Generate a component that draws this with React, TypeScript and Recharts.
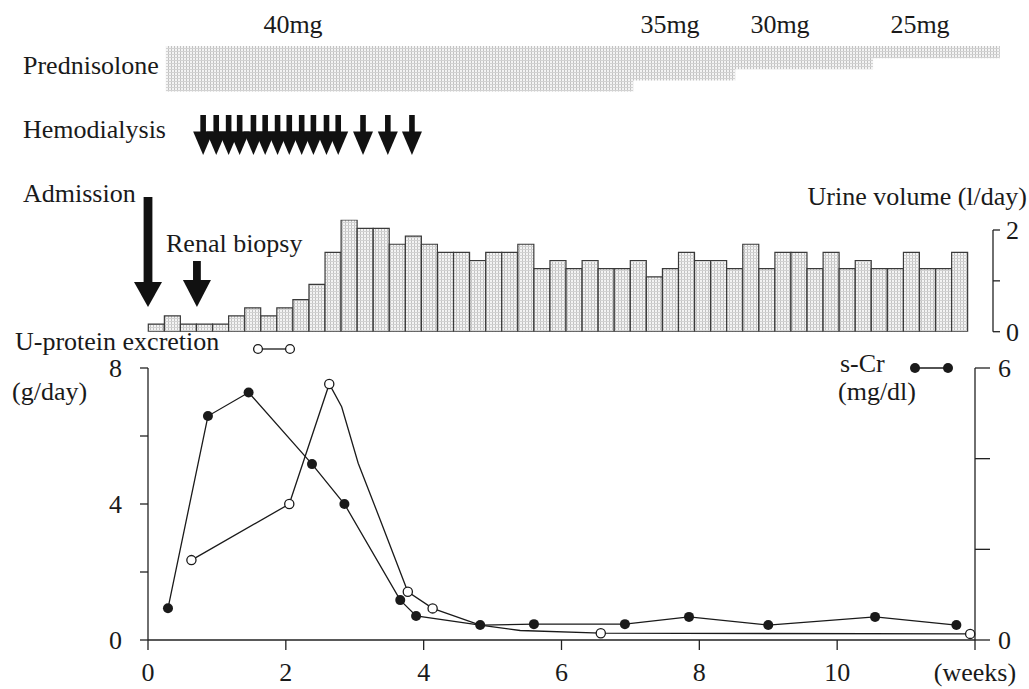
import React from 'react';
import { ComposedChart, Line, Area, Bar, Scatter, XAxis, YAxis } from 'recharts';

const W = 1029;
const H = 689;
const FONT = '"Liberation Serif", "Times New Roman", Times, serif';
const INK = '#1a1a1a';

// ---- Prednisolone (week the dose starts, mg/day) ----
const prednisoloneWeeks = [0.26, 7.04, 8.52, 10.52, 12.36];
const prednisoloneDose = [40, 35, 30, 25, 25];
const doseLabels = ['40mg', '35mg', '30mg', '25mg'];

// ---- Hemodialysis sessions (weeks) ----
const hemodialysisWeeks = [0.8, 0.99, 1.17, 1.33, 1.53, 1.7, 1.88, 2.05, 2.23, 2.4, 2.59, 2.76, 3.12, 3.48, 3.83];

// ---- Events (weeks) ----
const eventNames = ['Admission', 'Renal biopsy'];
const eventWeeks = [0, 0.71];

// ---- Urine volume (l/day), consecutive bars ----
const urineVolume = [
  0.15, 0.31, 0.15, 0.15, 0.15, 0.31, 0.47, 0.31, 0.47, 0.63,
  0.93, 1.56, 2.2, 2.03, 2.03, 1.72, 1.88, 1.72, 1.56, 1.56,
  1.4, 1.56, 1.56, 1.72, 1.24, 1.4, 1.24, 1.4, 1.24, 1.24,
  1.4, 1.08, 1.24, 1.56, 1.4, 1.4, 1.24, 1.72, 1.24, 1.56,
  1.56, 1.24, 1.56, 1.24, 1.4, 1.24, 1.24, 1.56, 1.24, 1.24,
  1.56,
];

// ---- U-protein excretion (g/day); marked = measured point drawn as open circle ----
const uProteinWeeks = [0.63, 2.05, 2.63, 2.81, 3.05, 3.37, 3.77, 4.13, 4.82, 5.4, 6.57, 11.93];
const uProteinValues = [2.35, 4.0, 7.53, 6.86, 5.2, 3.53, 1.42, 0.93, 0.44, 0.28, 0.2, 0.18];
const uProteinMarked = [true, true, true, false, false, false, true, true, false, false, true, true];

// ---- Serum creatinine (mg/dl) ----
const sCrWeeks = [0.29, 0.87, 1.46, 2.38, 2.85, 3.66, 3.89, 4.82, 5.6, 6.92, 7.85, 9.0, 10.55, 11.73];
const sCrValues = [0.7, 4.94, 5.46, 3.88, 3.0, 0.88, 0.53, 0.33, 0.35, 0.35, 0.51, 0.33, 0.51, 0.33];

// ---- Axis ticks ----
const weekTicks = [0, 2, 4, 6, 8, 10, 12];
const proteinTicks = [0, 2, 4, 6, 8];
const proteinLabelled = [0, 4, 8];
const sCrTicks = [0, 2, 4, 6];
const sCrLabelled = [0, 6];
const urineTicks = [0, 1, 2];
const urineLabelled = [0, 2];

const prednisoloneData = prednisoloneWeeks.map((w, i) => ({ w, dose: prednisoloneDose[i] }));
const hdData = hemodialysisWeeks.map((w) => ({ w, y: 1 }));
const eventData = eventWeeks.map((w, i) => ({ w, y: 0, name: eventNames[i] }));
const urineData = urineVolume.map((v, i) => ({ idx: i + 1, v }));
const uProteinData = uProteinWeeks.map((w, i) => ({ w, v: uProteinValues[i], marked: uProteinMarked[i] }));
const sCrData = sCrWeeks.map((w, i) => ({ w, v: sCrValues[i] }));

const tickStyle = { fontFamily: FONT, fontSize: 26, fill: INK };
const axisStroke = { stroke: '#222', strokeWidth: 1.3 };

const Layer: React.FC<{ children: React.ReactNode }> = ({ children }) => (
  <div style={{ position: 'absolute', left: 0, top: 0, width: W, height: H }}>{children}</div>
);

const HdArrow = (props: any) => {
  const { cx, cy } = props;
  if (cx == null || cy == null) return <g />;
  return (
    <g fill="#111">
      <rect x={cx - 2.8} y={cy - 20} width={5.6} height={17} />
      <polygon points={`${cx - 10},${cy - 3.4} ${cx + 10},${cy - 3.4} ${cx},${cy + 20}`} />
    </g>
  );
};

const EventArrow = (props: any) => {
  const { cx, cy, payload } = props;
  if (cx == null || cy == null) return <g />;
  const long = payload && payload.name === 'Admission';
  const stemTop = long ? 110 : 46;
  const headTop = long ? 25 : 27;
  const stemW = long ? 8.8 : 7.8;
  return (
    <g fill="#111">
      <rect x={cx - stemW / 2} y={cy - stemTop} width={stemW} height={stemTop - headTop + 1} />
      <polygon points={`${cx - 14},${cy - headTop} ${cx + 14},${cy - headTop} ${cx},${cy}`} />
    </g>
  );
};

const OpenDot = (props: any) => {
  const { cx, cy, payload, index } = props;
  if (!payload || !payload.marked || cx == null) return <g key={`o${index}`} />;
  return <circle key={`o${index}`} cx={cx} cy={cy} r={4.6} fill="#fff" stroke={INK} strokeWidth={1.3} />;
};

const FilledDot = (props: any) => {
  const { cx, cy, index } = props;
  if (cx == null) return <g key={`f${index}`} />;
  return <circle key={`f${index}`} cx={cx} cy={cy} r={5} fill={INK} stroke="none" />;
};

export default function App() {
  const txt = (s: string, x: number, y: number, anchor: 'start' | 'middle' | 'end' = 'start') => (
    <text x={x} y={y} textAnchor={anchor} fontFamily={FONT} fontSize={26} fill={INK}>
      {s}
    </text>
  );
  const doseLabelX = [293, 670, 780, 920];

  return (
    <div style={{ position: 'absolute', left: 0, top: 0, width: W, height: H, background: '#fff', overflow: 'hidden' }}>
      <svg width={0} height={0} style={{ position: 'absolute' }}>
        <defs>
          <pattern id="halftone" width={3} height={3} patternUnits="userSpaceOnUse">
            <rect width={3} height={3} fill="#f4f4f4" />
            <rect width={1} height={3} fill="#c2c2c2" />
            <rect width={3} height={1} fill="#d2d2d2" />
          </pattern>
        </defs>
      </svg>

      {/* Prednisolone band */}
      <Layer>
        <ComposedChart width={W} height={H} data={prednisoloneData} margin={{ top: 46, right: W - 1009.5, bottom: H - 96, left: 148 }}>
          <XAxis type="number" dataKey="w" domain={[0, 12.5]} hide />
          <YAxis type="number" domain={[19.5, 42.0]} reversed hide allowDataOverflow />
          <Area type="stepAfter" dataKey="dose" stroke="none" fill="url(#halftone)" fillOpacity={1} baseValue="dataMin" isAnimationActive={false} />
        </ComposedChart>
      </Layer>

      {/* Hemodialysis arrows */}
      <Layer>
        <ComposedChart width={W} height={H} margin={{ top: 115, right: W - 975, bottom: H - 155, left: 148 }}>
          <XAxis type="number" dataKey="w" domain={[0, 12]} hide />
          <YAxis type="number" dataKey="y" domain={[0, 2]} hide />
          <Scatter data={hdData} shape={HdArrow} isAnimationActive={false} />
        </ComposedChart>
      </Layer>

      {/* Admission / biopsy arrows */}
      <Layer>
        <ComposedChart width={W} height={H} margin={{ top: 190, right: W - 975, bottom: H - 307, left: 148 }}>
          <XAxis type="number" dataKey="w" domain={[0, 12]} hide />
          <YAxis type="number" dataKey="y" domain={[0, 1]} hide />
          <Scatter data={eventData} shape={EventArrow} isAnimationActive={false} />
        </ComposedChart>
      </Layer>

      {/* Urine volume bars */}
      <Layer>
        <ComposedChart width={W} height={H} data={urineData} barCategoryGap={0} barGap={0}
          margin={{ top: 331.7 - 2.2 * 50.85, right: W - 967.7, bottom: H - 331.7, left: 148.3 }}>
          <XAxis dataKey="idx" hide />
          <YAxis domain={[0, 2.2]} hide allowDataOverflow />
          <Bar dataKey="v" fill="url(#halftone)" stroke="#3a3a3a" strokeWidth={1.2} isAnimationActive={false} />
        </ComposedChart>
      </Layer>

      {/* Urine volume axis (bracket from 0 to 2 l/day) */}
      <Layer>
        <ComposedChart width={W} height={H} data={urineData} margin={{ top: 230, right: 0, bottom: H - 331.7, left: 148.3 }}>
          <XAxis dataKey="idx" hide />
          <YAxis orientation="right" type="number" width={36} domain={[0, 2]} allowDataOverflow ticks={urineTicks} interval={0}
            tickFormatter={(v: number) => (urineLabelled.includes(v) ? String(v) : '')}
            tickSize={7} tickMargin={6} axisLine={axisStroke} tickLine={axisStroke} tick={tickStyle} />
          <Line dataKey="v" stroke="none" dot={false} activeDot={false} isAnimationActive={false} />
        </ComposedChart>
      </Layer>

      {/* U-protein & s-Cr */}
      <Layer>
        <ComposedChart width={W} height={H} margin={{ top: 368, right: 0, bottom: 0, left: 88 }}>
          <XAxis type="number" dataKey="w" domain={[0, 12]} ticks={weekTicks} interval={0}
            tickFormatter={(v: number) => (v === 12 ? '(weeks)' : String(v))}
            height={49} tickSize={10} tickMargin={13} axisLine={axisStroke} tickLine={axisStroke} tick={tickStyle} />
          <YAxis yAxisId="left" type="number" domain={[0, 8]} ticks={proteinTicks} interval={0}
            tickFormatter={(v: number) => (proteinLabelled.includes(v) ? String(v) : '')}
            width={60} tickSize={8} tickMargin={18} axisLine={axisStroke} tickLine={axisStroke} tick={tickStyle} />
          <YAxis yAxisId="right" orientation="right" type="number" domain={[0, 6]} ticks={sCrTicks} interval={0}
            tickFormatter={(v: number) => (sCrLabelled.includes(v) ? String(v) : '')}
            width={54} tickSize={15} tickMargin={8} axisLine={axisStroke} tickLine={axisStroke} tick={tickStyle} />
          <Line yAxisId="left" data={uProteinData} dataKey="v" type="linear" stroke={INK} strokeWidth={1.3}
            dot={OpenDot} activeDot={false} isAnimationActive={false} />
          <Line yAxisId="right" data={sCrData} dataKey="v" type="linear" stroke={INK} strokeWidth={1.3}
            dot={FilledDot} activeDot={false} isAnimationActive={false} />
        </ComposedChart>
      </Layer>

      {/* Text and legend keys */}
      <svg width={W} height={H} style={{ position: 'absolute', left: 0, top: 0, pointerEvents: 'none' }}>
        {doseLabels.map((s, i) => (
          <text key={s} x={doseLabelX[i]} y={33} textAnchor="middle" fontFamily={FONT} fontSize={26} fill={INK}>{s}</text>
        ))}
        {txt('Prednisolone', 23, 74)}
        {txt('Hemodialysis', 23, 138)}
        {txt('Admission', 23, 202)}
        {txt('Renal biopsy', 166, 252)}
        {txt('Urine volume (l/day)', 1027, 205, 'end')}
        {txt('U-protein excretion', 15, 350)}
        {txt('(g/day)', 12, 400)}
        {txt('s-Cr', 840, 372)}
        {txt('(mg/dl)', 838, 400)}
        <line x1={258} y1={349} x2={290} y2={349} stroke={INK} strokeWidth={1.3} />
        <circle cx={258} cy={349} r={4.4} fill="#fff" stroke={INK} strokeWidth={1.3} />
        <circle cx={290} cy={349} r={4.4} fill="#fff" stroke={INK} strokeWidth={1.3} />
        <line x1={915} y1={368} x2={948} y2={368} stroke={INK} strokeWidth={1.3} />
        <circle cx={915} cy={368} r={5} fill={INK} />
        <circle cx={948} cy={368} r={5} fill={INK} />
      </svg>
    </div>
  );
}
